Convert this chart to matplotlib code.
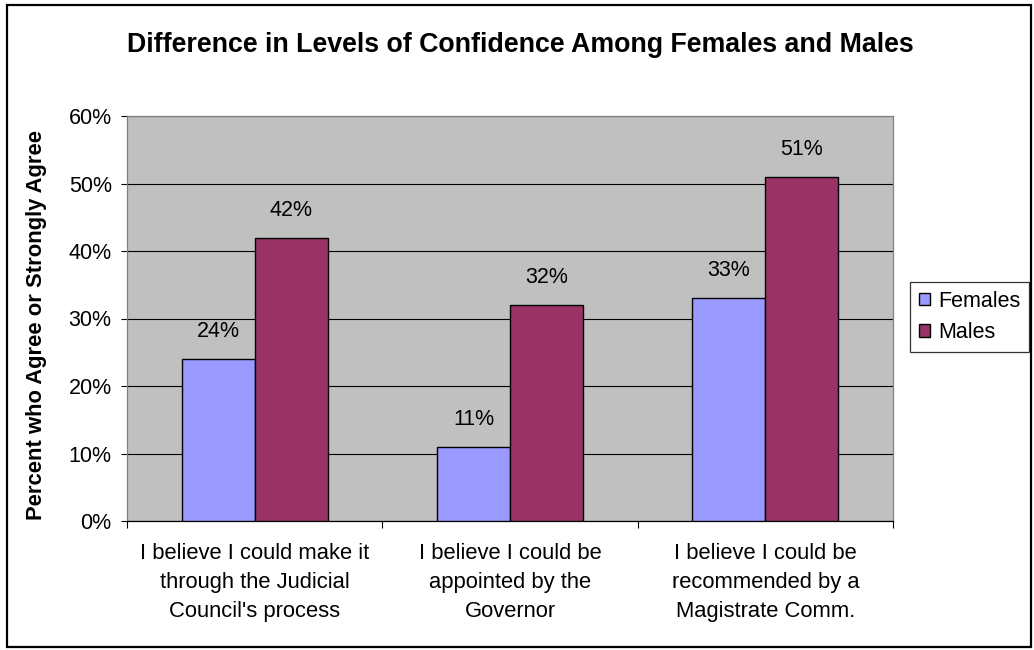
import matplotlib
matplotlib.use('Agg')
import matplotlib.pyplot as plt
from matplotlib.patches import Rectangle
import numpy as np

plt.rcParams['font.family'] = ['Liberation Sans', 'DejaVu Sans']

categories = ["I believe I could make it\nthrough the Judicial\nCouncil's process",
              "I believe I could be\nappointed by the\nGovernor",
              "I believe I could be\nrecommended by a\nMagistrate Comm."]
females = [24, 11, 33]
males = [42, 32, 51]
yticks = [0, 10, 20, 30, 40, 50, 60]

W, H = 1034, 650
fig = plt.figure(figsize=(W/100, H/100), dpi=100)
# outer chart frame
fig.patches.append(Rectangle((7/W, 1 - 647/H), (1031-7)/W, (647-5)/H, transform=fig.transFigure,
                             fill=False, edgecolor='black', linewidth=1.6))
ax = fig.add_axes([127/W, 1 - 521/H, (893-127)/W, (521-116)/H])
ax.set_facecolor('#C0C0C0')

x = np.arange(len(categories))
w = 0.286
b1 = ax.bar(x - w/2, females, w, color='#9999FF', edgecolor='black', linewidth=1.0,
            label='Females', zorder=3)
b2 = ax.bar(x + w/2, males, w, color='#993366', edgecolor='black', linewidth=1.0,
            label='Males', zorder=3)
for bars in (b1, b2):
    for r in bars:
        ax.text(r.get_x() + r.get_width()/2, r.get_height() + 2.5, f'{r.get_height():.0f}%',
                ha='center', va='bottom', fontsize=15.5)

ax.set_xlim(-0.5, 2.5)
ax.set_ylim(0, 60)
ax.set_yticks(yticks)
ax.set_yticklabels([f'{v}%' for v in yticks], fontsize=15.5)
ax.yaxis.grid(True, color='black', linewidth=0.8, zorder=0)
ax.set_axisbelow(True)
ax.set_xticks([-0.5, 0.5, 1.5, 2.5])
ax.set_xticklabels([])
ax.set_xticks(x, minor=True)
ax.set_xticklabels(categories, minor=True, fontsize=15.8, linespacing=1.5)
ax.tick_params(axis='x', which='minor', length=0, pad=16)
ax.tick_params(axis='x', which='major', length=5, width=0.8, direction='out')
ax.tick_params(axis='y', length=4, width=0.8, direction='out', pad=7)
for s in ax.spines.values():
    s.set_color('#808080')
    s.set_linewidth(0.9)
ax.spines['bottom'].set_color('black')

fig.text(37/W, 1 - 325/H, 'Percent who Agree or Strongly Agree', rotation=90,
         ha='center', va='center', fontsize=15.8, fontweight='bold')
fig.text(520/W, 1 - 52/H, 'Difference in Levels of Confidence Among Females and Males',
         ha='center', va='baseline', fontsize=19.3, fontweight='bold')

leg = fig.legend(handles=[b1, b2], loc='upper left', bbox_to_anchor=(910/W, 1 - 282/H),
                 borderaxespad=0, fontsize=15.5, frameon=True, fancybox=False,
                 edgecolor='black', handlelength=0.55, handleheight=0.55, borderpad=0.4,
                 labelspacing=0.5, handletextpad=0.35)
leg.get_frame().set_linewidth(0.9)

fig.savefig('out.png', dpi=100, facecolor='white')
